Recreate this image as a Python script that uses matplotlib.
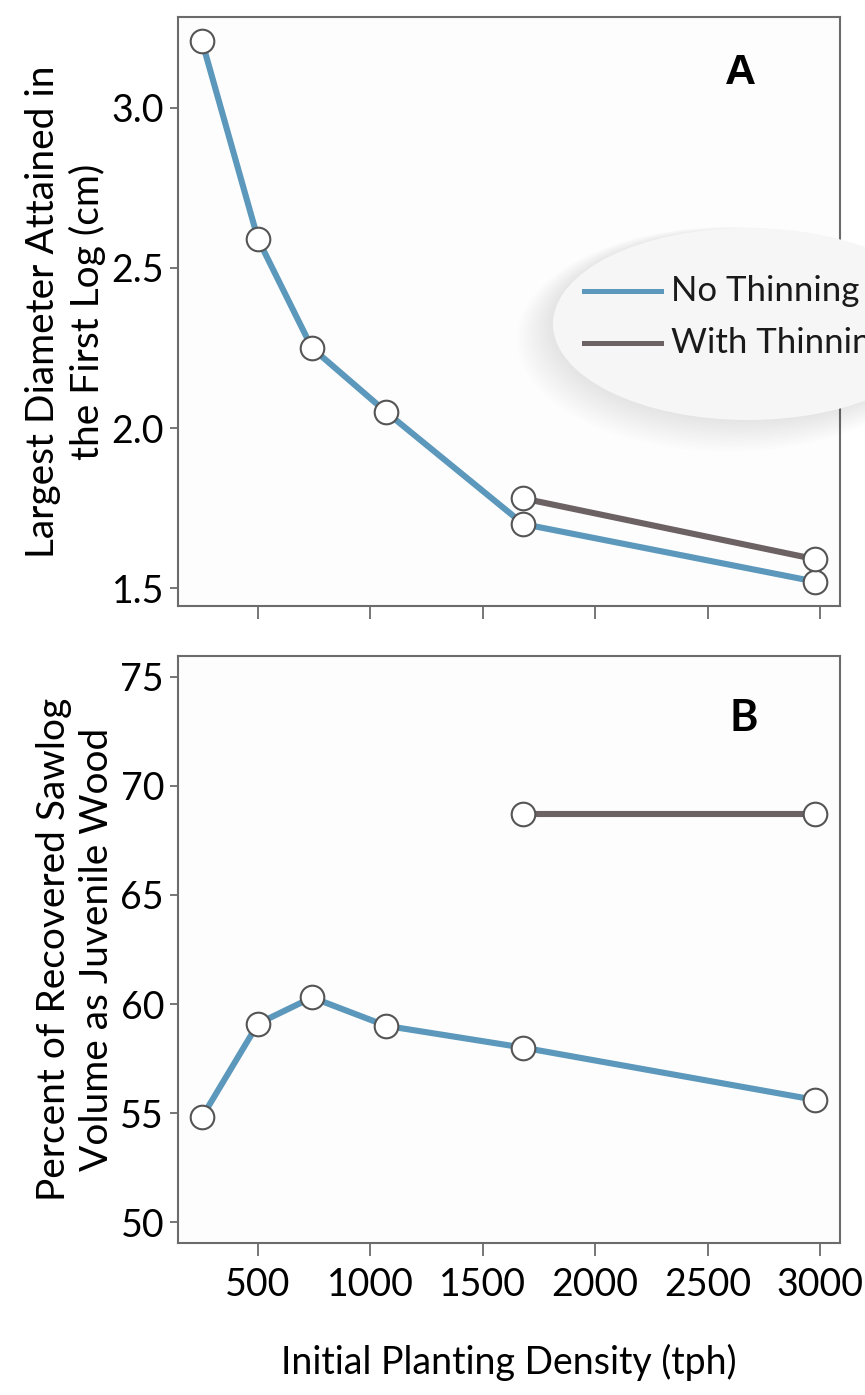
import numpy as np
import matplotlib
matplotlib.use('Agg')
import matplotlib.pyplot as plt
from matplotlib.patches import Ellipse
from matplotlib.lines import Line2D

plt.rcParams['font.family'] = ['Lato', 'DejaVu Sans']

# data
density = [250, 500, 740, 1070, 1680, 2980]
density_thin = [1680, 2980]
diam_no_thin = [3.21, 2.59, 2.25, 2.05, 1.70, 1.52]
diam_thin = [1.78, 1.59]
juv_no_thin = [54.8, 59.1, 60.3, 59.0, 58.0, 55.6]
juv_thin = [68.7, 68.7]

x_ticks = [500, 1000, 1500, 2000, 2500, 3000]
diam_ticks = [1.5, 2.0, 2.5, 3.0]
juv_ticks = [50, 55, 60, 65, 70, 75]

c_blue = '#5b98bb'
c_brown = '#6c6163'
c_spine = '#6b6b6b'

W, H = 865, 1395
fig = plt.figure(figsize=(W / 100, H / 100), dpi=100)


def fx(px):
    return px / W


def fy(py):
    return 1 - py / H


axA = fig.add_axes([fx(178), fy(606), fx(840) - fx(178), fy(17) - fy(606)])
axB = fig.add_axes([fx(178), fy(1243), fx(840) - fx(178), fy(656) - fy(1243)])

mk = dict(marker='o', markersize=17, markerfacecolor='white',
          markeredgecolor='#555555', markeredgewidth=1.5)

axA.plot(density, diam_no_thin, color=c_blue, lw=4.4, **mk, zorder=3)
axA.plot(density_thin, diam_thin, color=c_brown, lw=4.4, **mk, zorder=3)
axB.plot(density, juv_no_thin, color=c_blue, lw=4.4, **mk, zorder=3)
axB.plot(density_thin, juv_thin, color=c_brown, lw=4.4, **mk, zorder=3)

for ax in (axA, axB):
    ax.set_xlim(144, 3089)
    ax.set_xticks(x_ticks)
    ax.set_facecolor('#fdfdfd')
    for s in ax.spines.values():
        s.set_color(c_spine)
        s.set_linewidth(1.5)
    ax.tick_params(axis='y', direction='out', length=6, width=1.3,
                   color=c_spine, labelsize=27, pad=4)
    ax.tick_params(axis='x', direction='out', length=9, width=1.3,
                   color=c_spine, labelsize=27, pad=8)

axA.set_ylim(1.444, 3.284)
axA.set_yticks(diam_ticks)
axA.set_yticklabels(['%.1f' % v for v in diam_ticks])
axA.tick_params(axis='x', labelbottom=False)
axA.set_ylabel('Largest Diameter Attained in\nthe First Log (cm)',
               fontsize=28, linespacing=1.25, labelpad=4)

axB.set_ylim(49.04, 75.96)
axB.set_yticks(juv_ticks)
axB.set_ylabel('Percent of Recovered Sawlog\nVolume as Juvenile Wood',
               fontsize=28, linespacing=1.25, labelpad=4)
axB.set_xlabel('Initial Planting Density (tph)', fontsize=27, labelpad=30)

axA.text(0.85, 0.905, 'A', transform=axA.transAxes, fontsize=31,
         fontweight='bold', family='Liberation Sans', ha='center', va='center')
axB.text(0.855, 0.895, 'B', transform=axB.transAxes, fontsize=31,
         fontweight='bold', ha='center', va='center')

# legend drawn as a shaded ellipse that runs off the right edge
cx, cy, ew, eh = fx(748), fy(324), fx(390), 192 / H
for i in range(12):
    fig.add_artist(Ellipse((cx - fx(3 + i * 1.5), cy - (2 + i * 1.2) / H),
                           ew + fx(i * 3), eh + i * 3 / H,
                           facecolor='black', edgecolor='none',
                           alpha=0.008, zorder=9))
fig.add_artist(Ellipse((cx, cy), ew, eh, facecolor='#f6f6f6',
                       edgecolor='none', zorder=10))
for ly, col, lab in [(291, c_blue, 'No Thinning'), (343, c_brown, 'With Thinning')]:
    fig.add_artist(Line2D([fx(584), fx(661)], [fy(ly), fy(ly)], color=col,
                          lw=3.6, zorder=11))
    fig.text(fx(671), fy(ly), lab, fontsize=25, va='center', ha='left',
             color='#1a1a1a', zorder=11)

fig.savefig('out.png', dpi=100, facecolor='white')
